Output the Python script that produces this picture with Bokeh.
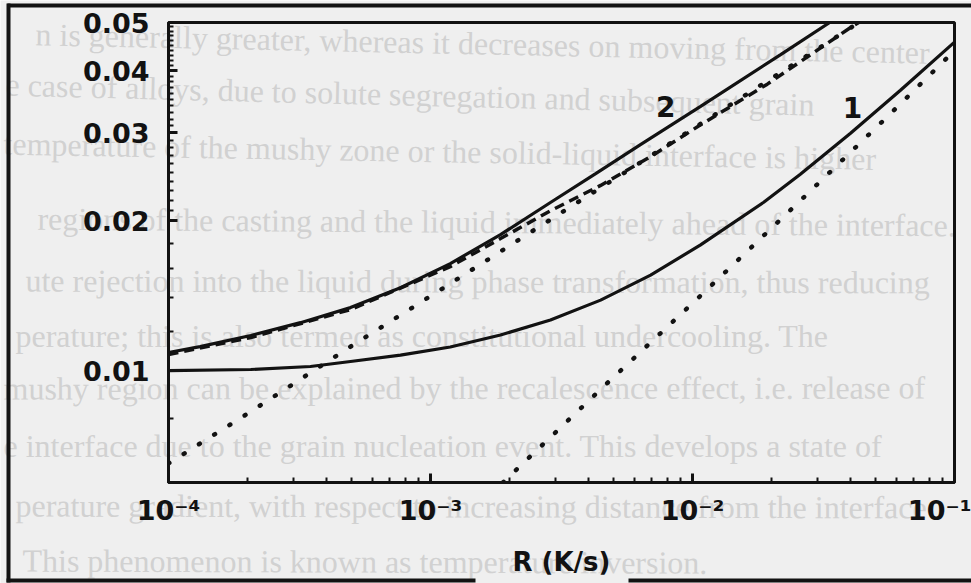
import math
from bokeh.plotting import figure
from bokeh.models import FixedTicker, PrintfTickFormatter, GridBox, Range1d, ColumnDataSource
from bokeh.embed import file_html
from bokeh.resources import INLINE
from bokeh.core.properties import value

# ---------------- data ----------------
# cooling rate R (K/s) and the quantity on the y axis, per curve
solid2_R = [1.0e-4, 1.32e-4, 2.06e-4, 3.19e-4, 4.95e-4, 7.68e-4, 1.19e-3, 1.85e-3,
            2.87e-3, 4.27e-3, 6.33e-3, 1.07e-2, 2.17e-2, 3.34e-2]
solid2_D = [0.01087, 0.01117, 0.01176, 0.01248, 0.01338, 0.01467, 0.01640, 0.01875,
            0.02175, 0.02486, 0.02843, 0.03390, 0.04310, 0.0500]

dashed2_R = [1.0e-4, 2.06e-4, 4.95e-4, 1.19e-3, 1.85e-3, 2.87e-3, 4.46e-3, 6.92e-3,
             1.07e-2, 1.93e-2, 4.01e-2, 4.31e-2]
dashed2_D = [0.01077, 0.01165, 0.01326, 0.01617, 0.01841, 0.02094, 0.02354, 0.02689,
             0.03112, 0.03760, 0.04884, 0.0500]

dotted2_R = [1.0e-4, 2.06e-4, 4.95e-4, 1.19e-3, 2.87e-3, 6.33e-3, 1.67e-2, 4.32e-2]
dotted2_D = [0.00651, 0.00827, 0.01117, 0.01495, 0.02010, 0.02617, 0.03633, 0.0500]

solid1_R = [1.0e-4, 2.06e-4, 3.48e-4, 4.95e-4, 7.68e-4, 1.19e-3, 1.85e-3, 2.87e-3,
            4.46e-3, 6.92e-3, 1.07e-2, 1.87e-2, 2.58e-2, 4.01e-2, 6.22e-2, 1.0e-1]
solid1_D = [0.01000, 0.01005, 0.01019, 0.01043, 0.01074, 0.01115, 0.01179, 0.01263,
            0.01385, 0.01555, 0.01786, 0.02178, 0.02479, 0.02997, 0.03656, 0.04567]

dotted1_R = [1.89e-3, 4.66e-3, 1.045e-2, 2.56e-2, 5.60e-2, 1.0e-1]
dotted1_D = [0.00596, 0.00937, 0.01395, 0.02185, 0.03251, 0.04391]

curve_label_text = ["2", "1"]
curve_label_R = [7.9e-3, 4.08e-2]
curve_label_D = [0.0339, 0.0337]

x_major = [1e-4, 1e-3, 1e-2, 1e-1]
x_labels = ["10\u207b\u2074", "10\u207b\u00b3", "10\u207b\u00b2", "10\u207b\u00b9"]
y_major = [0.01, 0.02, 0.03, 0.04, 0.05]
x_title = "R (K/s)"

# faint text showing through from the other side of the scanned page
bleed_rows = [
    "n is generally greater, whereas it decreases on moving from the center",
    "e case of alloys, due to solute segregation and subsequent grain",
    "temperature of the mushy zone or the solid-liquid interface is higher",
    "regions of the casting and the liquid immediately ahead of the interface.",
    "ute rejection into the liquid during phase transformation, thus reducing",
    "perature; this is also termed as constitutional undercooling. The",
    "mushy region can be explained by the recalescence effect, i.e. release of",
    "e interface due to the grain nucleation event. This develops a state of",
    "perature gradient, with respect to increasing distance from the interface",
    "This phenomenon is known as temperature inversion.",
]

# ---------------- page layer: scanned paper, bleed-through and outer frame ----------------
W, H = 971, 583
BG = "#efefef"
INK = "#121212"
FONT = "DejaVu Sans"

page = figure(width=W, height=H, x_range=Range1d(0, W), y_range=Range1d(H, 0),
              frame_width=W, frame_height=H, min_border=0,
              x_axis_location=None, y_axis_location=None,
              output_backend="svg", toolbar_location=None)
page.frame_align = False
page.background_fill_color = BG
page.border_fill_color = BG
page.outline_line_color = None
page.grid.visible = False

row_x = [35, 5, 3, 37, 25, 15, 3, 3, 15, 22]
row_y_left = [33, 84, 143, 218, 280, 335, 388, 445, 505, 560]
row_y_right = [53, 108, 160, 225, 282, 335, 387, 445, 507, 563]
slopes = [(yr - yl) / W for yl, yr in zip(row_y_left, row_y_right)]
bleed_src = ColumnDataSource(dict(
    x=row_x,
    y=[yl + s * x0 for yl, s, x0 in zip(row_y_left, slopes, row_x)],
    a=[-math.atan(s) for s in slopes],
    t=bleed_rows))
page.text(x="x", y="y", text="t", angle="a", source=bleed_src,
          text_font=value("Liberation Serif"), text_font_size="32px",
          text_color="#d1d1d1", text_baseline="middle", text_align="left")

# outer rule of the scanned figure (gap under the axis title)
page.quad(left=[7, 6, 6, 628], right=[975, 10, 475, 975],
          top=[3, 3, 578, 578], bottom=[7, 582, 582, 582],
          fill_color=INK, line_color=None)

# ---------------- chart layer ----------------
p = figure(x_axis_type="log", y_axis_type="log",
           x_range=(1e-4, 1e-1), y_range=(0.00596, 0.05),
           frame_width=786, frame_height=460,
           min_border_left=168, min_border_right=17,
           min_border_top=22, min_border_bottom=101,
           output_backend="svg", toolbar_location=None)
p.frame_align = False
p.background_fill_color = None
p.border_fill_color = None
p.outline_line_color = INK
p.outline_line_width = 3
p.grid.visible = False

p.line(solid2_R, solid2_D, line_color=INK, line_width=3.2)
p.line(dashed2_R, dashed2_D, line_color=INK, line_width=3.5, line_dash="10 6")
p.line(dotted2_R, dotted2_D, line_color=INK, line_width=4.5, line_dash="1 17",
       line_cap="round")
p.line(solid1_R, solid1_D, line_color=INK, line_width=3.2)
p.line(dotted1_R, dotted1_D, line_color=INK, line_width=4.5, line_dash="1 17",
       line_cap="round")
p.text(curve_label_R, curve_label_D, text=curve_label_text,
       text_font=value(FONT), text_font_style="bold", text_font_size="28px",
       text_color=INK, text_align="center", text_baseline="middle")

x_minor = [k * 10.0 ** e for e in (-4, -3, -2) for k in range(2, 10)]
y_minor = [0.008, 0.012, 0.014, 0.016, 0.018] + \
          [round(0.020 + 0.001 * i, 3) for i in range(1, 30) if i % 10 != 0]

xa = p.xaxis[0]
ya = p.yaxis[0]
xa.ticker = FixedTicker(ticks=x_major, minor_ticks=x_minor)
ya.ticker = FixedTicker(ticks=y_major, minor_ticks=y_minor)
xa.major_label_overrides = {t: s for t, s in zip(x_major, x_labels)}
ya.formatter = PrintfTickFormatter(format="%.2f")

for ax in (xa, ya):
    ax.axis_line_color = INK
    ax.axis_line_width = 3
    ax.major_tick_line_color = INK
    ax.major_tick_line_width = 3
    ax.minor_tick_line_color = INK
    ax.minor_tick_line_width = 2
    ax.major_tick_in = 9
    ax.major_tick_out = 0
    ax.minor_tick_in = 5
    ax.minor_tick_out = 0
    ax.major_label_text_font = FONT
    ax.major_label_text_font_style = "bold"
    ax.major_label_text_font_size = "27px"
    ax.major_label_text_color = INK

xa.major_label_standoff = 12
ya.major_label_standoff = 19
xa.axis_label = x_title
xa.axis_label_text_font = FONT
xa.axis_label_text_font_style = "bold"
xa.axis_label_text_font_size = "26px"
xa.axis_label_text_color = INK
xa.axis_label_standoff = 18

# chart drawn over the page in the same grid cell
layout = GridBox(children=[(page, 0, 0), (p, 0, 0)], spacing=0)

open("out.html", "w").write(file_html(layout, INLINE))
